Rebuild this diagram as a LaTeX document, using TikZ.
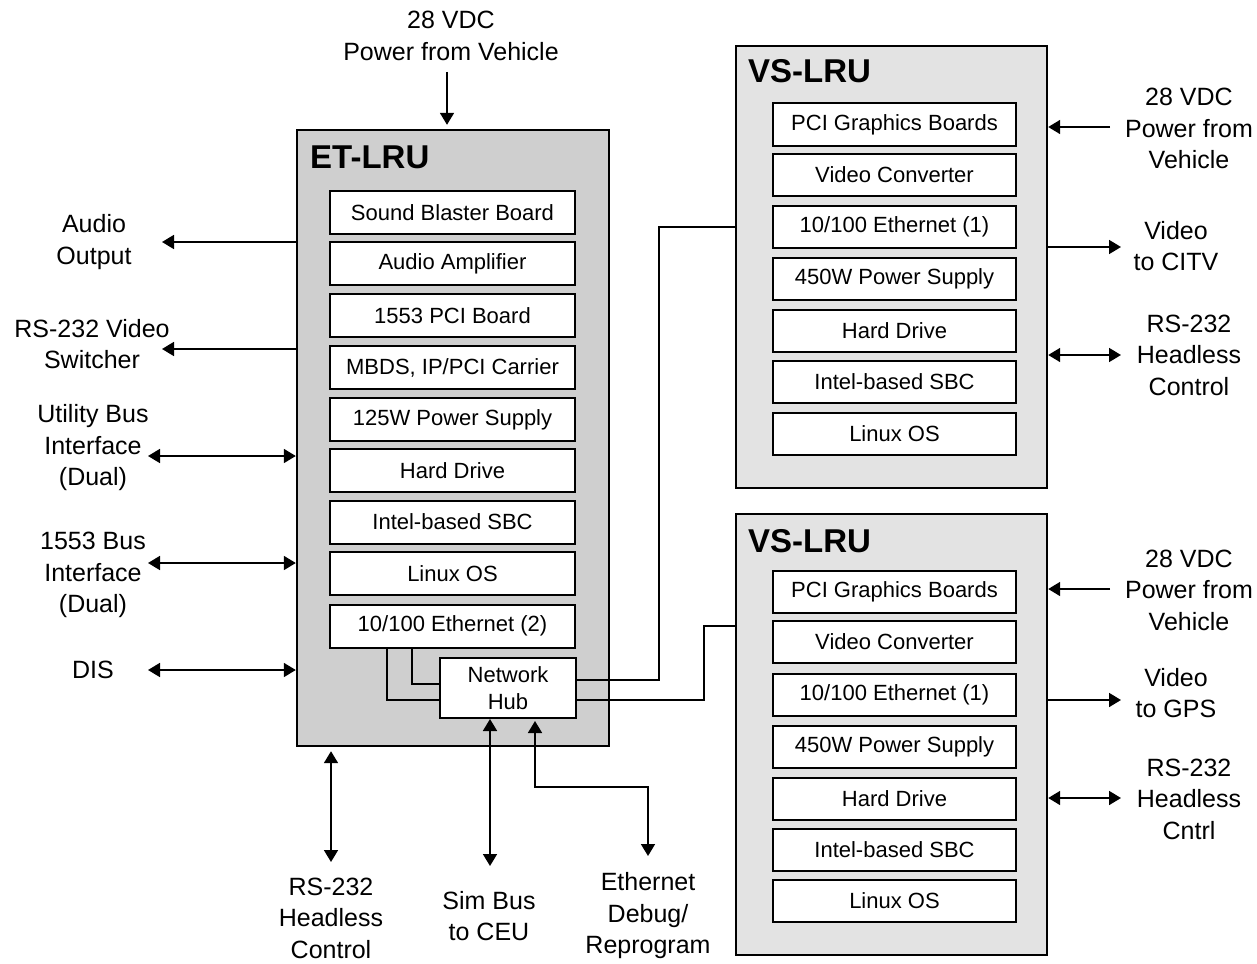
\documentclass[tikz,border=0pt]{standalone}
\usepackage{fontspec}
\setmainfont{Liberation Sans}
\usetikzlibrary{arrows.meta,calc}
\begin{document}
\begin{tikzpicture}[x=1pt,y=-1pt,
  conn/.style={line width=1.8pt},
  tip/.tip={Triangle[length=12pt,width=14pt]},
  lru/.style={draw, line width=2.4pt, inner sep=0, anchor=center},
  etfill/.style={fill=black!19},
  vsfill/.style={fill=black!11},
  board/.style={draw, line width=2pt, fill=white, inner sep=0, minimum height=43pt,
    font=\fontsize{22}{26}\selectfont},
  etb/.style={board, minimum width=245pt},
  vsb/.style={board, minimum width=243pt, minimum height=42pt},
  ttl/.style={font=\fontsize{33}{38}\selectfont\bfseries, inner sep=0, anchor=base west},
  lbl/.style={font=\fontsize{25}{31.5}\selectfont, align=center, inner sep=0}]
\useasboundingbox (0,0) rectangle (1257,963);

% ET-LRU
\node[lru, etfill, minimum width=312pt, minimum height=616pt] (et) at (453,438) {};
\node[ttl] (ettitle) at (310,168) {ET-LRU};
\node[etb] (e1) at (452.5,212.5) {Sound Blaster Board};
\node[etb] (e2) at (452.5,263.5) {Audio Amplifier};
\node[etb] (e3) at (452.5,315.5) {1553 PCI Board};
\node[etb] (e4) at (452.5,367.5) {MBDS, IP/PCI Carrier};
\node[etb] (e5) at (452.5,419.5) {125W Power Supply};
\node[etb] (e6) at (452.5,470.5) {Hard Drive};
\node[etb] (e7) at (452.5,522) {Intel-based SBC};
\node[etb] (e8) at (452.5,573.5) {Linux OS};
\node[etb] (e9) at (452.5,626) {10/100 Ethernet (2)};
\node[board, minimum width=136pt, minimum height=60pt, align=center,
  font=\fontsize{22}{27}\selectfont] (hub) at (508,688) {Network\\Hub};

% VS-LRU 1
\node[lru, vsfill, minimum width=311pt, minimum height=442pt] (vs1) at (891.5,267) {};
\node[ttl] (vs1title) at (748,83) {VS-LRU};
\node[vsb] (a1) at (894.5,124.5) {PCI Graphics Boards};
\node[vsb] (a2) at (894.5,175) {Video Converter};
\node[vsb] (a3) at (894.5,227) {10/100 Ethernet (1)};
\node[vsb] (a4) at (894.5,279) {450W Power Supply};
\node[vsb] (a5) at (894.5,331) {Hard Drive};
\node[vsb] (a6) at (894.5,382) {Intel-based SBC};
\node[vsb] (a7) at (894.5,434) {Linux OS};

% VS-LRU 2
\node[lru, vsfill, minimum width=311pt, minimum height=441pt] (vs2) at (891.5,734.5) {};
\node[ttl] (vs2title) at (748,552) {VS-LRU};
\node[vsb] (b1) at (894.5,591.5) {PCI Graphics Boards};
\node[vsb] (b2) at (894.5,642) {Video Converter};
\node[vsb] (b3) at (894.5,694.5) {10/100 Ethernet (1)};
\node[vsb] (b4) at (894.5,746.5) {450W Power Supply};
\node[vsb] (b5) at (894.5,798.5) {Hard Drive};
\node[vsb] (b6) at (894.5,849.5) {Intel-based SBC};
\node[vsb] (b7) at (894.5,901) {Linux OS};

% internal ethernet links
\draw[conn] ($(e9.south)+(-65.5,0)$) |- ($(hub.west)+(0,12)$);
\draw[conn] ($(e9.south)+(-40.5,0)$) |- ($(hub.west)+(0,-4)$);
\draw[conn] ($(hub.east)+(0,-8)$) -| ($(vs1.west |- a3)+(-76,0)$) -- (vs1.west |- a3);
\draw[conn] ($(hub.east)+(0,12)$) -| ($(vs2.north west)+(-31,113)$) -- ($(vs2.north west)+(0,113)$);

% labels
\node[lbl] (ltop) at (451,36) {28 VDC\\Power from Vehicle};
\node[lbl] (lao) at (94,242) {Audio\\Output};
\node[lbl] (lvs) at (92,344) {RS-232 Video\\Switcher};
\node[lbl] (lub) at (93,448) {Utility Bus\\Interface\\(Dual)};
\node[lbl] (l15) at (93,575) {1553 Bus\\Interface\\(Dual)};
\node[lbl] (ldis) at (93,670) {DIS};
\node[lbl] (lrs) at (331,918) {RS-232\\Headless\\Control};
\node[lbl] (lsim) at (489,916) {Sim Bus\\to CEU};
\node[lbl] (leth) at (648,916) {Ethernet\\Debug/\\Reprogram};
\node[lbl] (r1p) at (1189,128.5) {28 VDC\\Power from\\Vehicle};
\node[lbl] (r1v) at (1176,246) {Video\\to CITV};
\node[lbl] (r1r) at (1189,355) {RS-232\\Headless\\Control};
\node[lbl] (r2p) at (1189,590) {28 VDC\\Power from\\Vehicle};
\node[lbl] (r2v) at (1176,693) {Video\\to GPS};
\node[lbl] (r2r) at (1189,799) {RS-232\\Headless\\Cntrl};

% free ends
\coordinate (ctop) at (447,72);
\coordinate (cao) at (162,242);
\coordinate (cvs) at (162,349);
\coordinate (cub) at (148,456);
\coordinate (c15) at (148,563);
\coordinate (cdis) at (148,670);
\coordinate (crs) at (331,862);
\coordinate (csim) at (490,866);
\coordinate (ceth) at (648,856);
\coordinate (cethb) at (535,787);
\coordinate (r1pc) at (1110,127);
\coordinate (r1vc) at (1121,247);
\coordinate (r1rc) at (1121,355);
\coordinate (r2pc) at (1110,589);
\coordinate (r2vc) at (1121,700);
\coordinate (r2rc) at (1121,798);

% external connectors
\draw[conn,-{tip}] (ctop) -- ($(et.north |- ctop)!1!(et.north)+(-6,-4)$);
\draw[conn,-{tip}] (et.west |- cao) -- (cao);
\draw[conn,-{tip}] (et.west |- cvs) -- (cvs);
\draw[conn,{tip}-{tip}] (cub) -- (et.west |- cub);
\draw[conn,{tip}-{tip}] (c15) -- (et.west |- c15);
\draw[conn,{tip}-{tip}] (cdis) -- (et.west |- cdis);
\draw[conn,{tip}-{tip}] ($(et.south |- crs)!1!(et.south)+(-122,4)$) -- (crs);
\draw[conn,{tip}-{tip}] ($(hub.south)+(-18,0)$) -- (csim);
\draw[conn,{tip}-{tip}] ($(hub.south)+(27,2)$) |- (cethb -| ceth) -- (ceth);
\draw[conn,-{tip}] (r1pc) -- (vs1.east |- r1pc);
\draw[conn,-{tip}] (vs1.east |- r1vc) -- (r1vc);
\draw[conn,{tip}-{tip}] (vs1.east |- r1rc) -- (r1rc);
\draw[conn,-{tip}] (r2pc) -- (vs2.east |- r2pc);
\draw[conn,-{tip}] (vs2.east |- r2vc) -- (r2vc);
\draw[conn,{tip}-{tip}] (vs2.east |- r2rc) -- (r2rc);
\end{tikzpicture}
\end{document}
